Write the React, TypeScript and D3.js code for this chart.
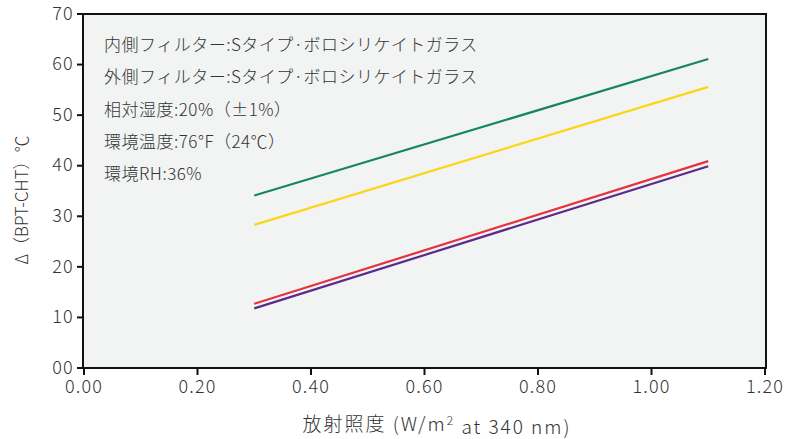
import React from "react";
import * as d3 from "d3";

// irradiance (W/m2 at 340 nm)
const irradiance = [0.3, 1.1];

// Δ(BPT-CHT) °C per series
const seriesNames = ["green", "yellow", "red", "purple"];
const greenValues = [34.1, 61.1];
const yellowValues = [28.3, 55.6];
const redValues = [12.7, 40.9];
const purpleValues = [11.8, 39.9];

const xTicks = [0, 0.2, 0.4, 0.6, 0.8, 1.0, 1.2];
const yTicks = [0, 10, 20, 30, 40, 50, 60, 70];

const notes = [
  "内側フィルター:Sタイプ·ボロシリケイトガラス",
  "外側フィルター:Sタイプ·ボロシリケイトガラス",
  "相対湿度:20%（±1%）",
  "環境温度:76°F（24℃）",
  "環境RH:36%",
];

const colors: Record<string, string> = {
  green: "#16865c",
  yellow: "#fcd612",
  red: "#e2333e",
  purple: "#5a2a8c",
};

const font = "'Noto Sans CJK JP', 'Noto Sans', sans-serif";

export default function App() {
  const width = 785, height = 439;
  const left = 83, right = 766, top = 14, bottom = 368;

  const x = d3.scaleLinear().domain([0, 1.2]).range([84, 765]);
  const y = d3.scaleLinear().domain([0, 70]).range([bottom, top]);

  const series: Record<string, number[]> = {
    green: greenValues,
    yellow: yellowValues,
    red: redValues,
    purple: purpleValues,
  };

  const line = d3
    .line<number>()
    .x((_, i) => x(irradiance[i]))
    .y((d) => y(d));

  const fmtY = d3.format("02d");
  const fmtX = d3.format(".2f");

  return (
    <svg width={width} height={height} style={{ position: "absolute", left: 0, top: 0 }}>
      <rect x={0} y={0} width={width} height={height} fill="#fff" />
      <rect x={left} y={top} width={right - left} height={bottom - top} fill="#f2f3f3" />
      {/* frame */}
      <line x1={left} x2={right + 1} y1={top} y2={top} stroke="#111" strokeWidth={2} />
      <line x1={right} x2={right} y1={top} y2={bottom} stroke="#111" strokeWidth={2} />
      <line x1={left} x2={left} y1={top - 1} y2={bottom + 1} stroke="#111" strokeWidth={2} />
      <line x1={left - 1} x2={right + 1} y1={bottom} y2={bottom} stroke="#111" strokeWidth={2} />

      {yTicks.map((t) => (
        <g key={"y" + t} transform={`translate(0,${y(t)})`}>
          <line x1={left - 6} x2={left} stroke="#111" strokeWidth={2} />
          <text x={left - 9} dy="0.32em" textAnchor="end" fontSize={18} letterSpacing={1.3} fill="#333" fontFamily={font} fontWeight={300}>
            {fmtY(t)}
          </text>
        </g>
      ))}

      {xTicks.map((t) => (
        <g key={"x" + t} transform={`translate(${x(t)},0)`}>
          <line y1={bottom} y2={bottom + 7} stroke="#111" strokeWidth={2} />
          <text y={393} textAnchor="middle" fontSize={18} letterSpacing={1.2} fill="#333" fontFamily={font} fontWeight={300}>
            {fmtX(t)}
          </text>
        </g>
      ))}

      {seriesNames.map((name) => (
        <path key={name} d={line(series[name]) || ""} fill="none" stroke={colors[name]} strokeWidth={2.2} />
      ))}

      {notes.map((n, i) => (
        <text key={n} x={104} y={45 + i * 32.2} dy="0.36em" fontSize={17} letterSpacing={0.5} fill="#333" fontFamily={font} fontWeight={300}>
          {n}
        </text>
      ))}

      <text
        transform={`translate(22,200) rotate(-90)`}
        textAnchor="middle"
        dy="0.36em"
        fontSize={17}
        fill="#333"
        fontFamily={font}
        fontWeight={300}
      >
        Δ（BPT-CHT）℃
      </text>
      <text x={437} y={424} dy="0.36em" textAnchor="middle" fontSize={19} letterSpacing={2} fill="#333" fontFamily={font} fontWeight={300}>
        放射照度 (W/m
        <tspan dy="-0.45em" fontSize={12}>2</tspan>
        <tspan dy="0.45em"> at 340 nm)</tspan>
      </text>
    </svg>
  );
}
